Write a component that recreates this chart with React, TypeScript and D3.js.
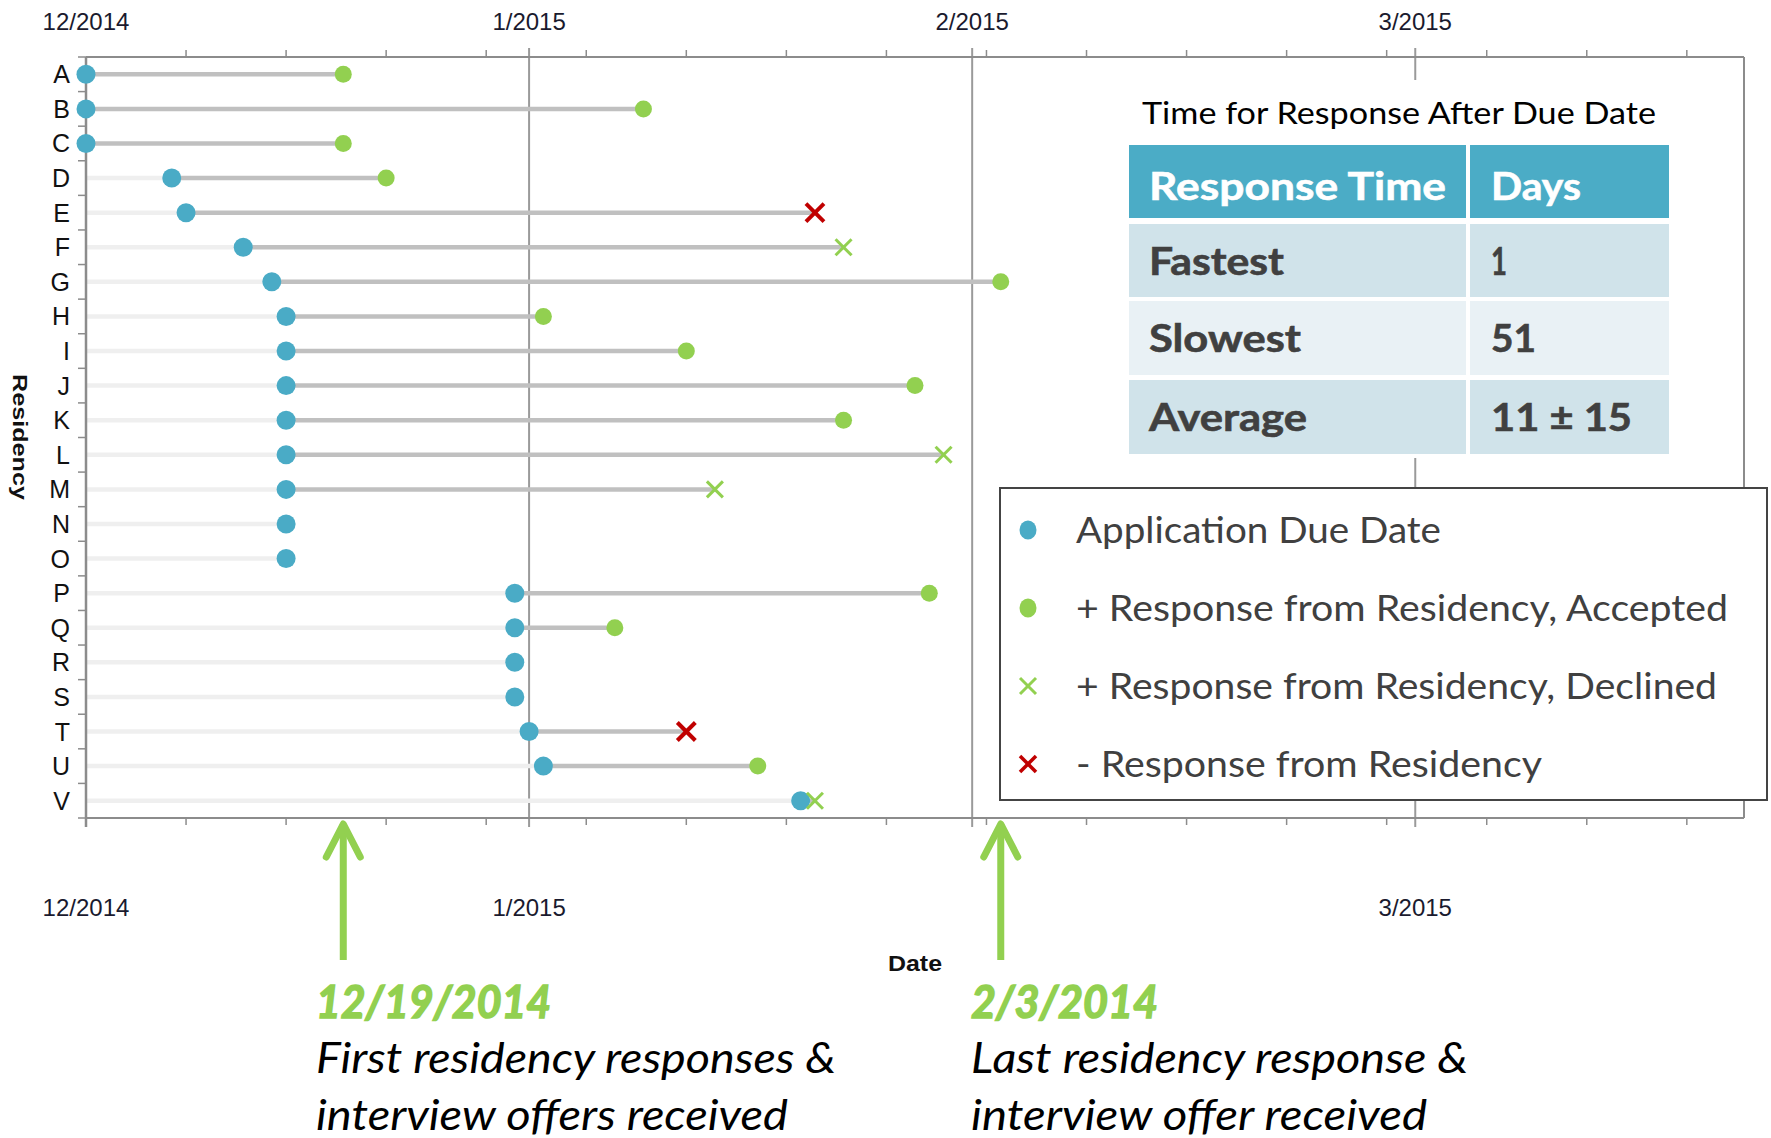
import React from "react";
import * as d3 from "d3";

const residencies = ["A","B","C","D","E","F","G","H","I","J","K","L","M","N","O","P","Q","R","S","T","U","V"];
const dueDates = ["2014-12-01","2014-12-01","2014-12-01","2014-12-07","2014-12-08","2014-12-12","2014-12-14","2014-12-15","2014-12-15","2014-12-15","2014-12-15","2014-12-15","2014-12-15","2014-12-15","2014-12-15","2014-12-31","2014-12-31","2014-12-31","2014-12-31","2015-01-01","2015-01-02","2015-01-20"];
const responseDates: (string | null)[] = ["2014-12-19","2015-01-09","2014-12-19","2014-12-22","2015-01-21","2015-01-23","2015-02-03","2015-01-02","2015-01-12","2015-01-28","2015-01-23","2015-01-30","2015-01-14",null,null,"2015-01-29","2015-01-07",null,null,"2015-01-12","2015-01-17","2015-01-21"];
const responseTypes: (string | null)[] = ["accepted","accepted","accepted","accepted","negative","declined","accepted","accepted","accepted","accepted","accepted","declined","declined",null,null,"accepted","accepted",null,null,"negative","accepted","declined"];

// month ticks as placed on the original axis (days after 12/1/2014)
const monthTickDays = [0, 31, 62, 93];
const monthTickLabels = ["12/2014", "1/2015", "2/2015", "3/2015"];
const bottomLabelShown = [true, true, false, true];
const weekTickDays = [7, 14, 21, 28, 35, 42, 49, 56, 63, 70, 77, 84, 91, 98, 105, 112];
const axisMaxDay = 116;

const tableTitle = "Time for Response After Due Date";
const tableHeader = ["Response Time", "Days"];
const tableRowLabels = ["Fastest", "Slowest", "Average"];
const tableRowValues = ["1", "51", "11 ± 15"];

const legendLabels = ["Application Due Date", "+ Response from Residency, Accepted", "+ Response from Residency, Declined", "- Response from Residency"];
const legendKinds = ["due", "accepted", "declined", "negative"];

const annotationDates = ["2014-12-19", "2015-02-03"];
const annotationTitles = ["12/19/2014", "2/3/2014"];
const annotationLine1 = ["First residency responses &", "Last residency response &"];
const annotationLine2 = ["interview offers received", "interview offer received"];

const BLUE = "#4aabc6";
const GREEN = "#92d050";
const RED = "#c00000";
const AXIS = "#8c8c8c";
const CAL = "Lato, 'Open Sans', sans-serif";
const ARIAL = "'Liberation Sans', Arial, sans-serif";

const start = new Date(2014, 11, 1);
const parse = d3.timeParse("%Y-%m-%d");
const dayOf = (s: string) => d3.timeDay.count(start, parse(s) as Date);

function Cross({ x, y, r, color, w }: { x: number; y: number; r: number; color: string; w: number }) {
  return (
    <g stroke={color} strokeWidth={w} strokeLinecap="butt">
      <line x1={x - r} y1={y - r} x2={x + r} y2={y + r} />
      <line x1={x - r} y1={y + r} x2={x + r} y2={y - r} />
    </g>
  );
}

export default function App() {
  const W = 1771, H = 1138;
  const x = d3.scaleLinear().domain([0, axisMaxDay]).range([86, 1744]);
  const y = d3.scaleBand<string>().domain(residencies).range([57, 818]);
  const top = 57, bottom = 818, left = 86, right = 1744;
  const bw = y.bandwidth();

  const rows = residencies.map((r, i) => ({
    r,
    due: dayOf(dueDates[i]),
    resp: responseDates[i] ? dayOf(responseDates[i] as string) : null,
    type: responseTypes[i],
    cy: (y(r) as number) + bw / 2,
  }));

  const tX = [1129, 1468, 1669];
  const tY = [145, 218, 224, 297, 301, 375, 380, 454];
  const rowFill = ["#d0e3ea", "#e9f1f5", "#d0e3ea"];
  const rowTextW = [135, 152, 158];
  const valTextW = [16, 45, 141];

  const legendY = [530, 608, 686, 764];
  const legendW = [365, 652, 641, 466];

  const annW0 = [235, 187];
  const annW1 = [520, 497];
  const annW2 = [472, 456];

  return (
    <svg width={W} height={H} style={{ position: "absolute", left: 0, top: 0, background: "#fff" }}>
      <rect width={W} height={H} fill="#fff" />
      {monthTickDays.slice(1).map((d) => (
        <line key={"g" + d} x1={x(d)} x2={x(d)} y1={top - 9} y2={bottom + 9} stroke="#9a9a9a" strokeWidth={2} />
      ))}
      {rows.map((d) => (
        <g key={"row" + d.r}>
          <line x1={left} x2={x(d.due)} y1={d.cy} y2={d.cy} stroke="#efefef" strokeWidth={4.5} />
          {d.resp !== null && (
            <line x1={x(d.due)} x2={x(d.resp)} y1={d.cy} y2={d.cy} stroke="#c0c0c0" strokeWidth={4.5} />
          )}
        </g>
      ))}
      <line x1={left} x2={right} y1={top} y2={top} stroke={AXIS} strokeWidth={2} />
      <line x1={left} x2={right} y1={bottom} y2={bottom} stroke={AXIS} strokeWidth={2} />
      <line x1={left} x2={left} y1={top} y2={bottom + 9} stroke={AXIS} strokeWidth={2.5} />
      <line x1={right} x2={right} y1={top} y2={bottom} stroke={AXIS} strokeWidth={2} />
      {weekTickDays.map((d) => (
        <g key={"w" + d} stroke={AXIS} strokeWidth={1.5}>
          <line x1={x(d)} x2={x(d)} y1={top} y2={top - 7} />
          <line x1={x(d)} x2={x(d)} y1={bottom} y2={bottom + 7} />
        </g>
      ))}
      {residencies.map((r) => (
        <line key={"yt" + r} x1={left - 8} x2={left} y1={y(r) as number} y2={y(r) as number} stroke={AXIS} strokeWidth={1.5} />
      ))}
      <line x1={left - 8} x2={left} y1={bottom} y2={bottom} stroke={AXIS} strokeWidth={1.5} />
      {monthTickDays.map((d, i) => (
        <g key={"ml" + d} fontFamily={ARIAL} fontSize={24} fill="#1a1a2e" textAnchor="middle">
          <text x={x(d)} y={30}>{monthTickLabels[i]}</text>
          {bottomLabelShown[i] && <text x={x(d)} y={916}>{monthTickLabels[i]}</text>}
        </g>
      ))}
      {residencies.map((r) => (
        <text key={"rl" + r} x={70} y={(y(r) as number) + bw / 2 + 9} textAnchor="end" fontFamily={ARIAL} fontSize={25} fill="#111">{r}</text>
      ))}
      <text transform="translate(13,437) rotate(90)" textAnchor="middle" fontFamily={ARIAL} fontWeight="bold" fontSize={21} fill="#111" textLength={126} lengthAdjust="spacingAndGlyphs">Residency</text>
      <text x={915} y={971} textAnchor="middle" fontFamily={ARIAL} fontWeight="bold" fontSize={22} fill="#111" textLength={54} lengthAdjust="spacingAndGlyphs">Date</text>
      {rows.map((d) => (
        <g key={"m" + d.r}>
          <circle cx={x(d.due)} cy={d.cy} r={9.5} fill={BLUE} />
          {d.resp !== null && d.type === "accepted" && <circle cx={x(d.resp)} cy={d.cy} r={8.5} fill={GREEN} />}
          {d.resp !== null && d.type === "declined" && <Cross x={x(d.resp)} y={d.cy} r={8} color={GREEN} w={3} />}
          {d.resp !== null && d.type === "negative" && <Cross x={x(d.resp)} y={d.cy} r={9} color={RED} w={4} />}
        </g>
      ))}
      <rect x={1100} y={80} width={600} height={378} fill="#fff" />
      <text x={(tX[0] + tX[2]) / 2} y={124} textAnchor="middle" fontFamily={CAL} fontSize={31} fill="#000" textLength={514} lengthAdjust="spacingAndGlyphs">{tableTitle}</text>
      <rect x={tX[0]} y={tY[0]} width={tX[1] - tX[0] - 2} height={tY[1] - tY[0]} fill="#4bacc6" />
      <rect x={tX[1] + 2} y={tY[0]} width={tX[2] - tX[1] - 2} height={tY[1] - tY[0]} fill="#4bacc6" />
      <text x={1149} y={200} fontFamily={CAL} fontWeight="bold" fontSize={39} fill="#fff" stroke="#fff" strokeWidth={0.6} textLength={297} lengthAdjust="spacingAndGlyphs">{tableHeader[0]}</text>
      <text x={1491} y={200} fontFamily={CAL} fontWeight="bold" fontSize={39} fill="#fff" stroke="#fff" strokeWidth={0.6} textLength={90} lengthAdjust="spacingAndGlyphs">{tableHeader[1]}</text>
      {tableRowLabels.map((lab, i) => {
        const y0 = tY[2 + i * 2], y1 = tY[3 + i * 2];
        const base = (y0 + y1) / 2 + 14;
        return (
          <g key={"tr" + i}>
            <rect x={tX[0]} y={y0} width={tX[1] - tX[0] - 2} height={y1 - y0} fill={rowFill[i]} />
            <rect x={tX[1] + 2} y={y0} width={tX[2] - tX[1] - 2} height={y1 - y0} fill={rowFill[i]} />
            <text x={1149} y={base} fontFamily={CAL} fontWeight="bold" fontSize={39} fill="#404040" stroke="#404040" strokeWidth={0.6} textLength={rowTextW[i]} lengthAdjust="spacingAndGlyphs">{lab}</text>
            <text x={1491} y={base} fontFamily={CAL} fontWeight="bold" fontSize={39} fill="#404040" stroke="#404040" strokeWidth={0.6} textLength={valTextW[i]} lengthAdjust="spacingAndGlyphs">{tableRowValues[i]}</text>
          </g>
        );
      })}
      <rect x={1000} y={488} width={767} height={312} fill="#fff" stroke="#444" strokeWidth={2} />
      {legendLabels.map((lab, i) => {
        const cy = legendY[i];
        const k = legendKinds[i];
        return (
          <g key={"lg" + i}>
            {k === "due" && <ellipse cx={1028} cy={cy} rx={8.5} ry={9.5} fill={BLUE} />}
            {k === "accepted" && <ellipse cx={1028} cy={cy} rx={8.5} ry={9.5} fill={GREEN} />}
            {k === "declined" && <Cross x={1028} y={cy} r={8} color={GREEN} w={3} />}
            {k === "negative" && <Cross x={1028} y={cy} r={8} color={RED} w={3.5} />}
            <text x={1076} y={cy + 13} fontFamily={CAL} fontSize={37} fill="#404040" textLength={legendW[i]} lengthAdjust="spacingAndGlyphs">{lab}</text>
          </g>
        );
      })}
      {annotationDates.map((s, i) => {
        const ax = x(dayOf(s));
        const tx = i === 0 ? 316 : 971;
        return (
          <g key={"an" + i}>
            <line x1={ax} x2={ax} y1={824} y2={960} stroke={GREEN} strokeWidth={7} />
            <polyline points={`${ax - 17},${857} ${ax},${824} ${ax + 17},${857}`} fill="none" stroke={GREEN} strokeWidth={7} strokeLinecap="round" strokeLinejoin="round" />
            <text x={tx} y={1018} fontFamily={CAL} fontStyle="italic" fontWeight="bold" fontSize={46} fill={GREEN} stroke={GREEN} strokeWidth={1.6} textLength={annW0[i]} lengthAdjust="spacingAndGlyphs">{annotationTitles[i]}</text>
            <text x={tx} y={1073} fontFamily={CAL} fontStyle="italic" fontSize={43} fill="#000" textLength={annW1[i]} lengthAdjust="spacingAndGlyphs">{annotationLine1[i]}</text>
            <text x={tx} y={1130} fontFamily={CAL} fontStyle="italic" fontSize={43} fill="#000" textLength={annW2[i]} lengthAdjust="spacingAndGlyphs">{annotationLine2[i]}</text>
          </g>
        );
      })}
    </svg>
  );
}
